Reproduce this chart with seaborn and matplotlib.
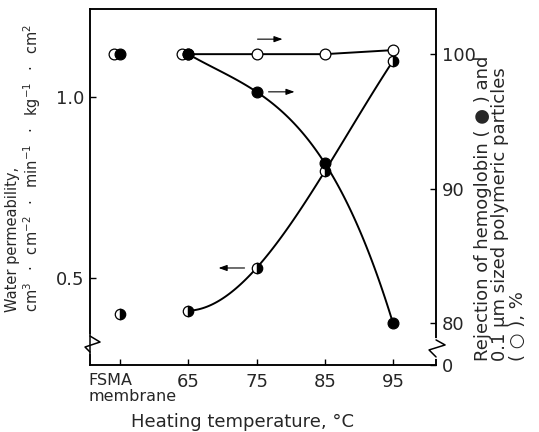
import numpy as np
import pandas as pd
import matplotlib
matplotlib.use('Agg')
import matplotlib.pyplot as plt
import matplotlib.transforms as mtransforms
import seaborn as sns

# Значения.
# Исходная мембрана FSMA стоит на оси X на месте "55"
temp_pos = [55, 65, 75, 85, 95]
temp_labels = ['FSMA\nmembrane', '65', '75', '85', '95']
water_perm = [0.40, 0.41, 0.528, 0.795, 1.10]
hb_rejection = [100.0, 100.0, 97.2, 91.9, 80.0]
particle_rejection = [100.0, 100.0, 100.0, 100.0, 100.3]
left_ticks = [0.5, 1.0]
right_ticks = [80, 90, 100]

df = pd.DataFrame({'temp': temp_pos, 'water': water_perm,
                   'hb': hb_rejection, 'particles': particle_rejection})
heated = df[df['temp'] > 55]

sns.set_style('ticks')
plt.rcParams['font.family'] = ['DejaVu Sans']
plt.rcParams['mathtext.default'] = 'regular'

fig, ax = plt.subplots(figsize=(5.39, 4.32), dpi=100)
fig.subplots_adjust(left=0.167, right=0.809, bottom=0.155, top=0.979)
ax2 = ax.twinx()

ax.set_xlim(50.6, 101.3)
ax.set_ylim(0.26, 1.243)
ax2.set_ylim(76.9, 103.35)

# кривые (кубический полином через 4 точки)
sns.regplot(data=heated, x='temp', y='water', order=3, ci=None, scatter=False,
            color='black', line_kws={'lw': 1.4}, ax=ax)
sns.regplot(data=heated, x='temp', y='hb', order=3, ci=None, scatter=False,
            color='black', line_kws={'lw': 1.4}, ax=ax2)
sns.lineplot(data=heated, x='temp', y='particles', color='black', lw=1.4, ax=ax2)

# маркеры
shift = mtransforms.offset_copy(ax2.transData, fig=fig, x=-6, units='dots')
sns.scatterplot(data=df.iloc[:2], x='temp', y='particles', s=60, color='white',
                edgecolor='black', linewidth=0.9, zorder=4, ax=ax2, transform=shift)
sns.scatterplot(data=heated, x='temp', y='particles', s=60, color='white',
                edgecolor='black', linewidth=0.9, zorder=4, ax=ax2)
sns.scatterplot(data=df, x='temp', y='hb', s=60, color='black',
                edgecolor='black', linewidth=0.9, zorder=5, ax=ax2)
ax.plot(df['temp'], df['water'], ls='none', marker='o', ms=7.5, fillstyle='left',
        mfc='white', mfcalt='black', mec='black', mew=0.9, zorder=5)

# стрелки
def arrow(axis, x, y, dx0, dx1, dy=0):
    head = mtransforms.offset_copy(axis.transData, fig=fig, x=dx1, y=dy, units='dots')
    axis.annotate('', xy=(x, y), xycoords=head, xytext=(dx0 - dx1, 0),
                  textcoords='offset pixels',
                  arrowprops=dict(arrowstyle='-|>,head_length=0.5,head_width=0.18',
                                  color='black', lw=0.8, shrinkA=0, shrinkB=0))

arrow(ax2, temp_pos[2], particle_rejection[2], 1, 26, dy=15)
arrow(ax2, temp_pos[2], hb_rejection[2], 12, 38)
arrow(ax, temp_pos[2], water_perm[2], -12, -38)

# оси
ax.set_xticks(temp_pos, temp_labels)
ax.set_yticks(left_ticks, [f'{v:.1f}' for v in left_ticks])
ax2.set_yticks([76.9] + right_ticks, ['0'] + [str(v) for v in right_ticks])
for a in (ax, ax2):
    a.tick_params(direction='in', length=4, width=1, labelsize=13, pad=4, color='black')
    for s in a.spines.values():
        s.set_linewidth(1.1)
        s.set_color('black')
ax.tick_params(axis='x', pad=6)
first = ax.get_xticklabels()[0]
first.set_horizontalalignment('left')
first.set_fontsize(11.5)
first.set_linespacing(1.05)
first.set_transform(first.get_transform() +
                    mtransforms.ScaledTranslation(-0.32, 0, fig.dpi_scale_trans))

ax.set_xlabel('Heating temperature, °C', fontsize=13)
ax.xaxis.set_label_coords(0.44, -0.135)

sep = ' \u2002·\u2002 '
units = sep.join(['$cm^{3}$', '$cm^{-2}$', '$min^{-1}$', '$kg^{-1}$', '$cm^{2}$'])
ax.set_ylabel('Water permeability,\n' + units,
              fontsize=10.5, multialignment='left', linespacing=1.1)
ax.yaxis.label.set_horizontalalignment('left')
ax.yaxis.set_label_coords(-0.135, 0.149)
ax2.set_ylabel('Rejection of hemoglobin ( ● ) and\n0.1 μm sized polymeric particles\n( ○ ), %',
               fontsize=13, multialignment='left', linespacing=0.95)
ax2.yaxis.label.set_horizontalalignment('left')
ax2.yaxis.set_label_coords(1.11, 0.012)

# разрывы осей
def zigzag(axis, xa, ya, pts):
    tr = fig.dpi_scale_trans + mtransforms.ScaledTranslation(xa, ya, axis.transAxes)
    px = [p[0] / 100 for p in pts]
    py = [p[1] / 100 for p in pts]
    axis.plot([0, 0], [py[0], py[-1]], color='white', lw=3, transform=tr, clip_on=False, zorder=10)
    axis.plot(px, py, color='black', lw=1.1, transform=tr, clip_on=False, zorder=11)

zigzag(ax, 0, 0.059, [(0, 8), (10, 2), (-5, -3), (0, -8)])
zigzag(ax2, 1, 0.048, [(0, 8), (9, 3), (-7, -2), (0, -9)])

plt.savefig('out.png', dpi=100)
